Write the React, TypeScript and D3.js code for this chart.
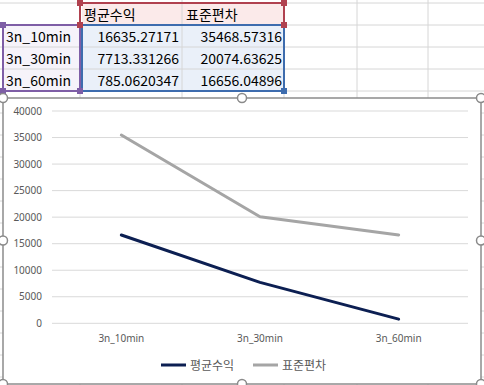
import React from "react";
import * as d3 from "d3";

const categories = ["3n_10min", "3n_30min", "3n_60min"];
const seriesNames = ["평균수익", "표준편차"];
const meanReturn = [16635.27171, 7713.331266, 785.0620347];
const stdDev = [35468.57316, 20074.63625, 16656.04896];
const meanText = ["16635.27171", "7713.331266", "785.0620347"];
const stdText = ["35468.57316", "20074.63625", "16656.04896"];
const yTicks = [0, 5000, 10000, 15000, 20000, 25000, 30000, 35000, 40000];

const W = 484, H = 385;
const colX = [0, 80, 182, 284, 357, 428, 484];
const rowY = [3, 25, 47, 69, 91, 113, 135, 157, 179, 201, 223, 245, 267, 289, 311, 333, 355, 377];
const font = "'Noto Sans CJK KR', 'Noto Sans', sans-serif";

export default function App() {
  const x = d3.scaleBand().domain(categories).range([52, 468]);
  const y = d3.scaleLinear().domain([0, 40000]).range([323.3, 111]);
  const line = d3
    .line<number>()
    .x((_, i) => (x(categories[i]) as number) + x.bandwidth() / 2)
    .y((d) => y(d));
  const series = [
    { name: seriesNames[0], values: meanReturn, color: "#0c1f52" },
    { name: seriesNames[1], values: stdDev, color: "#a5a5a5" },
  ];
  const handle = (cx: number, cy: number, c: string, k: string) => (
    <rect key={k} x={cx - 3} y={cy - 3} width={6} height={6} fill={c} />
  );
  const circ = (cx: number, cy: number, k: string) => (
    <circle key={k} cx={cx} cy={cy} r={4.5} fill="#fff" stroke="#8a8a8a" strokeWidth={1.5} />
  );
  return (
    <svg width={W} height={H} style={{ position: "absolute", left: 0, top: 0, background: "#fff" }} fontFamily={font}>
      {/* spreadsheet grid */}
      {rowY.map((ry, i) => (
        <line key={"r" + i} x1={0} x2={W} y1={ry} y2={ry} stroke="#d6d6d6" />
      ))}
      {colX.slice(1, 6).map((cx, i) => (
        <line key={"c" + i} x1={cx} x2={cx} y1={0} y2={H} stroke="#d6d6d6" />
      ))}
      {/* table fills */}
      <rect x={82} y={3} width={202} height={22} fill="#fbeaea" />
      <rect x={82} y={25} width={202} height={66} fill="#eaf0f9" />
      <rect x={3} y={25} width={77} height={66} fill="#f6f3fa" />
      {/* grid inside table */}
      {[47, 69].map((ry) => (
        <line key={"ti" + ry} x1={3} x2={284} y1={ry} y2={ry} stroke="#d6d6d6" />
      ))}
      <line x1={182} x2={182} y1={3} y2={91} stroke="#d6d6d6" />
      {/* texts */}
      {seriesNames.map((s, i) => (
        <text key={"h" + i} x={colX[i + 1] + 4} y={19.5} fontSize={14} fill="#000">{s}</text>
      ))}
      {categories.map((c, i) => (
        <g key={"row" + i}>
          <text x={6} y={41.5 + i * 22} fontSize={14} fill="#000">{c}</text>
          <text x={179} y={41.5 + i * 22} fontSize={14} fill="#000" textAnchor="end">{meanText[i]}</text>
          <text x={282} y={41.5 + i * 22} fontSize={14} fill="#000" textAnchor="end">{stdText[i]}</text>
        </g>
      ))}
      {/* selection borders */}
      <rect x={80} y={3} width={204} height={22} fill="none" stroke="#b0414f" strokeWidth={2} />
      <rect x={82} y={25} width={202} height={66} fill="none" stroke="#3d6cae" strokeWidth={2} />
      <rect x={3} y={25} width={77} height={66} fill="none" stroke="#7e5ea6" strokeWidth={2} />
      {handle(80, 3, "#b0414f", "h1")}
      {handle(284, 3, "#b0414f", "h2")}
      {handle(80, 25, "#b0414f", "h3")}
      {handle(284, 25, "#b0414f", "h4")}
      {handle(3, 25, "#7e5ea6", "h5")}
      {handle(80, 91, "#7e5ea6", "h6")}
      {handle(3, 91, "#7e5ea6", "h7")}
      {handle(284, 91, "#3d6cae", "h8")}
      {/* chart area */}
      <rect x={3} y={98} width={478} height={286} fill="#fff" stroke="#8c8c8c" strokeWidth={1.5} />
      {yTicks.map((t) => (
        <g key={"y" + t}>
          <line x1={52} x2={468} y1={y(t)} y2={y(t)} stroke="#d9d9d9" />
          <text x={42} y={y(t) + 3.5} fontSize={10} fill="#595959" textAnchor="end" fontFamily="'Noto Sans', sans-serif">{t}</text>
        </g>
      ))}
      {categories.map((c) => (
        <text key={"x" + c} x={(x(c) as number) + x.bandwidth() / 2} y={341.5} fontSize={10} fill="#595959" textAnchor="middle" fontFamily="'Noto Sans', sans-serif">{c}</text>
      ))}
      {series.map((s) => (
        <path key={s.name} d={line(s.values) || ""} fill="none" stroke={s.color} strokeWidth={3} strokeLinejoin="round" strokeLinecap="round" />
      ))}
      {/* legend */}
      {series.map((s, i) => (
        <g key={"lg" + i} transform={`translate(${161 + i * 92},365)`}>
          <line x1={0} x2={25} y1={0} y2={0} stroke={s.color} strokeWidth={3} />
          <text x={29} y={4.5} fontSize={12} fill="#595959">{s.name}</text>
        </g>
      ))}
      {/* chart handles */}
      {circ(3, 98, "c1")}
      {circ(242, 98, "c2")}
      {circ(481, 98, "c3")}
      {circ(3, 240.5, "c4")}
      {circ(481, 240.5, "c5")}
      {circ(3, 384, "c6")}
      {circ(242, 384, "c7")}
      {circ(481, 384, "c8")}
    </svg>
  );
}
